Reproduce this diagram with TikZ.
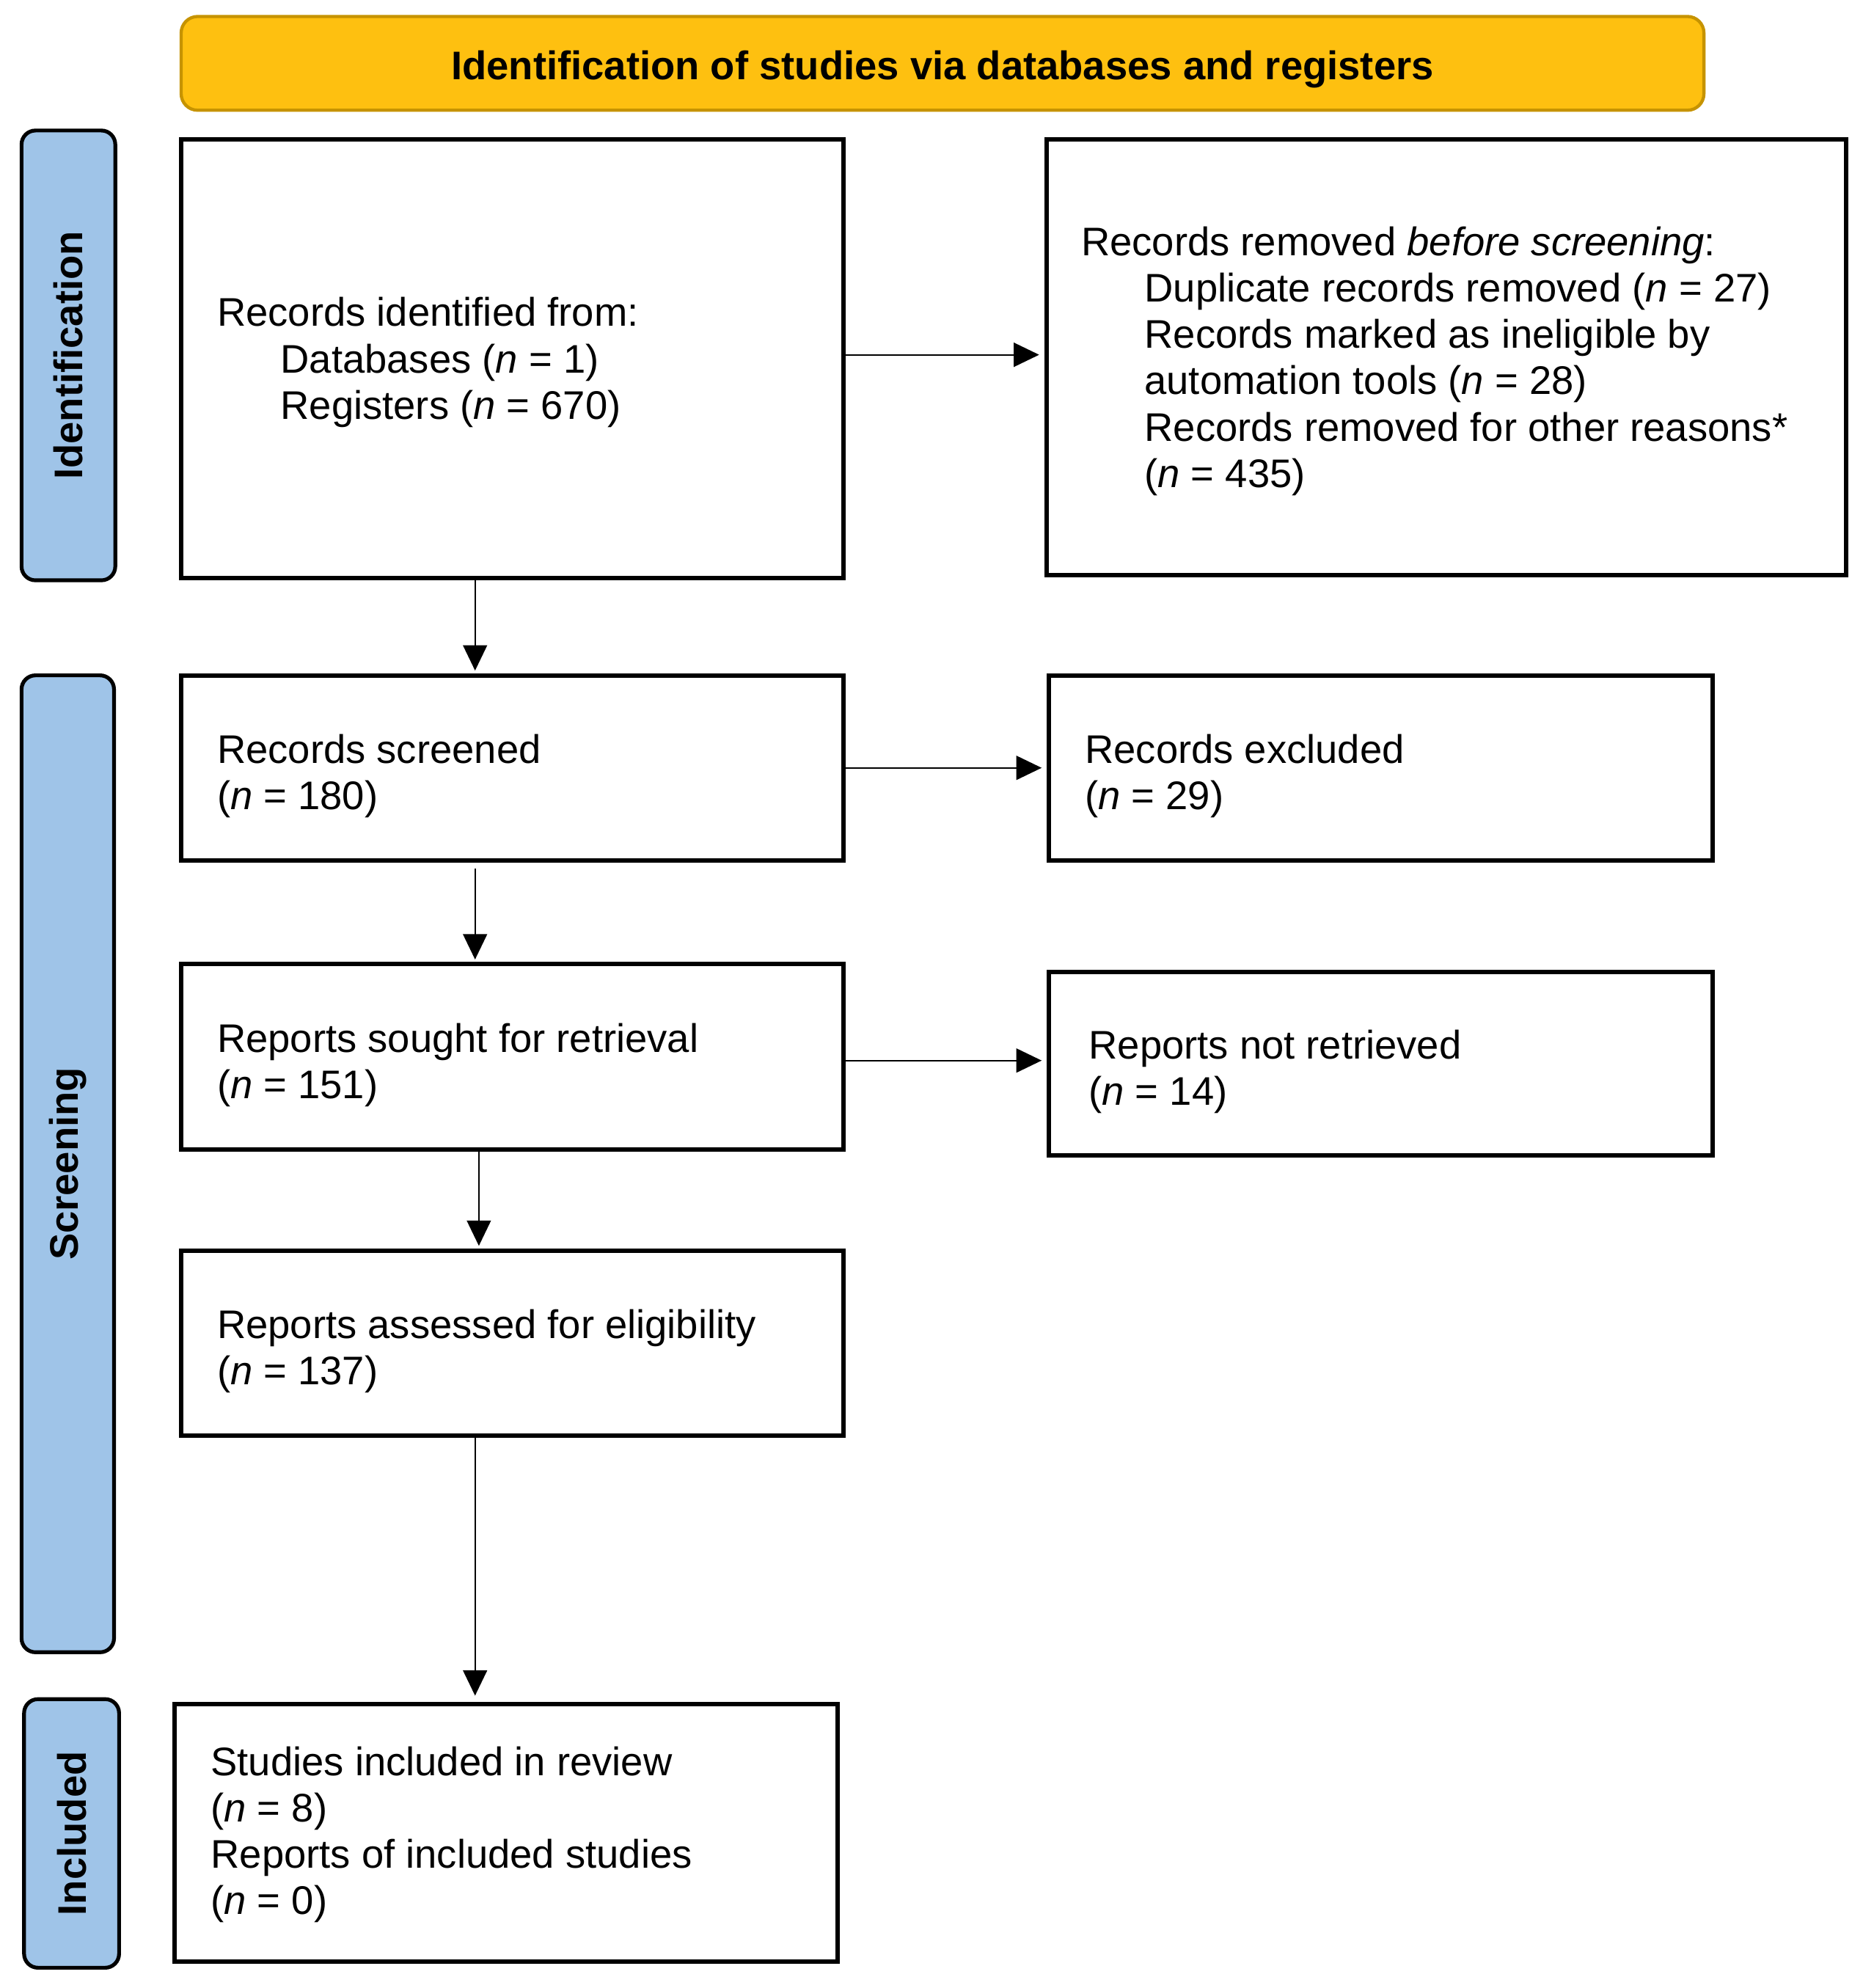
\documentclass[tikz,border=0pt]{standalone}
\usepackage{fontspec}
\setmainfont{Liberation Sans}
\usetikzlibrary{arrows.meta,calc}
\definecolor{hdrfill}{HTML}{FEC010}
\definecolor{hdrdraw}{HTML}{C69300}
\definecolor{barfill}{HTML}{9FC4E8}
\newcommand{\nn}{\textit{n}}
\begin{document}
\begin{tikzpicture}[x=1pt,y=-1pt,
  every node/.style={font=\fontsize{31.5pt}{36.6pt}\selectfont},
  flowbox/.style={draw=black, line width=3.5pt, fill=white, rectangle, inner sep=0pt},
  boxtext/.style={anchor=west, align=left, inner sep=0pt},
  sidebar/.style={draw=black, line width=3pt, fill=barfill, rounded corners=11pt, inner sep=0pt},
  sidelabel/.style={rotate=90, font=\fontsize{31.5pt}{36.6pt}\selectfont\bfseries},
  arr/.style={line width=1.2pt, -{Triangle[length=20pt,width=19pt]}}
]
\useasboundingbox (0,0) rectangle (1470,1569);

% header
\node[draw=hdrdraw, line width=2.5pt, fill=hdrfill, rounded corners=13pt,
      minimum width=1202pt, minimum height=74pt, inner sep=0pt] (hdr) at (744,50) {};
\node[inner sep=0pt, yshift=-4.5pt, font=\fontsize{31.5pt}{36.6pt}\selectfont\bfseries] (hdrtext) at (hdr.center)
      {Identification of studies via databases and registers};

% side bars
\node[sidebar, minimum width=74pt, minimum height=355pt] (idbar) at (54,280.5) {};
\node[sidelabel] (idlab) at (idbar.center) {Identification};
\node[sidebar, minimum width=73pt, minimum height=771pt] (scbar) at (53.5,918.5) {};
\node[sidelabel] (sclab) at (scbar.center) {Screening};
\node[sidebar, minimum width=75pt, minimum height=212pt] (inbar) at (56.5,1447) {};
\node[sidelabel] (inlab) at (inbar.center) {Included};

% boxes
\node[flowbox, minimum width=523pt, minimum height=346pt] (b1) at (404.5,283) {};
\node[boxtext, xshift=30pt, yshift=-3pt] (t1) at (b1.west)
  {Records identified from:\\
   \hspace*{50pt}Databases (\nn{} = 1)\\
   \hspace*{50pt}Registers (\nn{} = 670)};
\node[flowbox, minimum width=631pt, minimum height=344pt] (b2) at (1141.5,282) {};
\node[boxtext, xshift=29pt, yshift=-3pt] (t2) at (b2.west)
  {Records removed \textit{before screening}:\\
   \hspace*{50pt}Duplicate records removed (\nn{} = 27)\\
   \hspace*{50pt}Records marked as ineligible by\\
   \hspace*{50pt}automation tools (\nn{} = 28)\\
   \hspace*{50pt}Records removed for other reasons*\\
   \hspace*{50pt}(\nn{} = 435)};
\node[flowbox, minimum width=523pt, minimum height=146pt] (b3) at (404.5,606) {};
\node[boxtext, xshift=30pt, yshift=-6.5pt] (t3) at (b3.west)
  {Records screened\\(\nn{} = 180)};
\node[flowbox, minimum width=524pt, minimum height=146pt] (b4) at (1090,606) {};
\node[boxtext, xshift=30pt, yshift=-6.5pt] (t4) at (b4.west)
  {Records excluded\\(\nn{} = 29)};
\node[flowbox, minimum width=523pt, minimum height=146pt] (b5) at (404.5,834) {};
\node[boxtext, xshift=30pt, yshift=-6.5pt] (t5) at (b5.west)
  {Reports sought for retrieval\\(\nn{} = 151)};
\node[flowbox, minimum width=524pt, minimum height=145pt] (b6) at (1090,839.5) {};
\node[boxtext, xshift=33pt, yshift=-6.5pt] (t6) at (b6.west)
  {Reports not retrieved\\(\nn{} = 14)};
\node[flowbox, minimum width=523pt, minimum height=146pt] (b7) at (404.5,1060) {};
\node[boxtext, xshift=30pt, yshift=-6.5pt] (t7) at (b7.west)
  {Reports assessed for eligibility\\(\nn{} = 137)};
\node[flowbox, minimum width=523pt, minimum height=203pt] (b8) at (399.5,1446.5) {};
\node[boxtext, xshift=30pt, yshift=-1.5pt] (t8) at (b8.west)
  {Studies included in review\\(\nn{} = 8)\\Reports of included studies\\(\nn{} = 0)};

% connectors
\draw[arr, shorten >=4pt] ([yshift=3pt]b1.east) -- ([yshift=3pt]b1.east -| b2.west);
\draw[arr, shorten >=4pt] (b3.east) -- (b3.east -| b4.west);
\draw[arr, shorten >=4pt] ([yshift=-3pt]b5.east) -- ([yshift=-3pt]b5.east -| b6.west);
\draw[arr, shorten >=2pt] ([xshift=-29.5pt]b1.south) -- ([xshift=-29.5pt]b1.south |- b3.north);
\draw[arr, shorten <=5pt, shorten >=2pt] ([xshift=-29.5pt]b3.south) -- ([xshift=-29.5pt]b3.south |- b5.north);
\draw[arr, shorten >=2pt] ([xshift=-26.5pt]b5.south) -- ([xshift=-26.5pt]b5.south |- b7.north);
\draw[arr, shorten >=5pt] ([xshift=-29.5pt]b7.south) -- ([xshift=-29.5pt]b7.south |- b8.north);
\end{tikzpicture}
\end{document}
